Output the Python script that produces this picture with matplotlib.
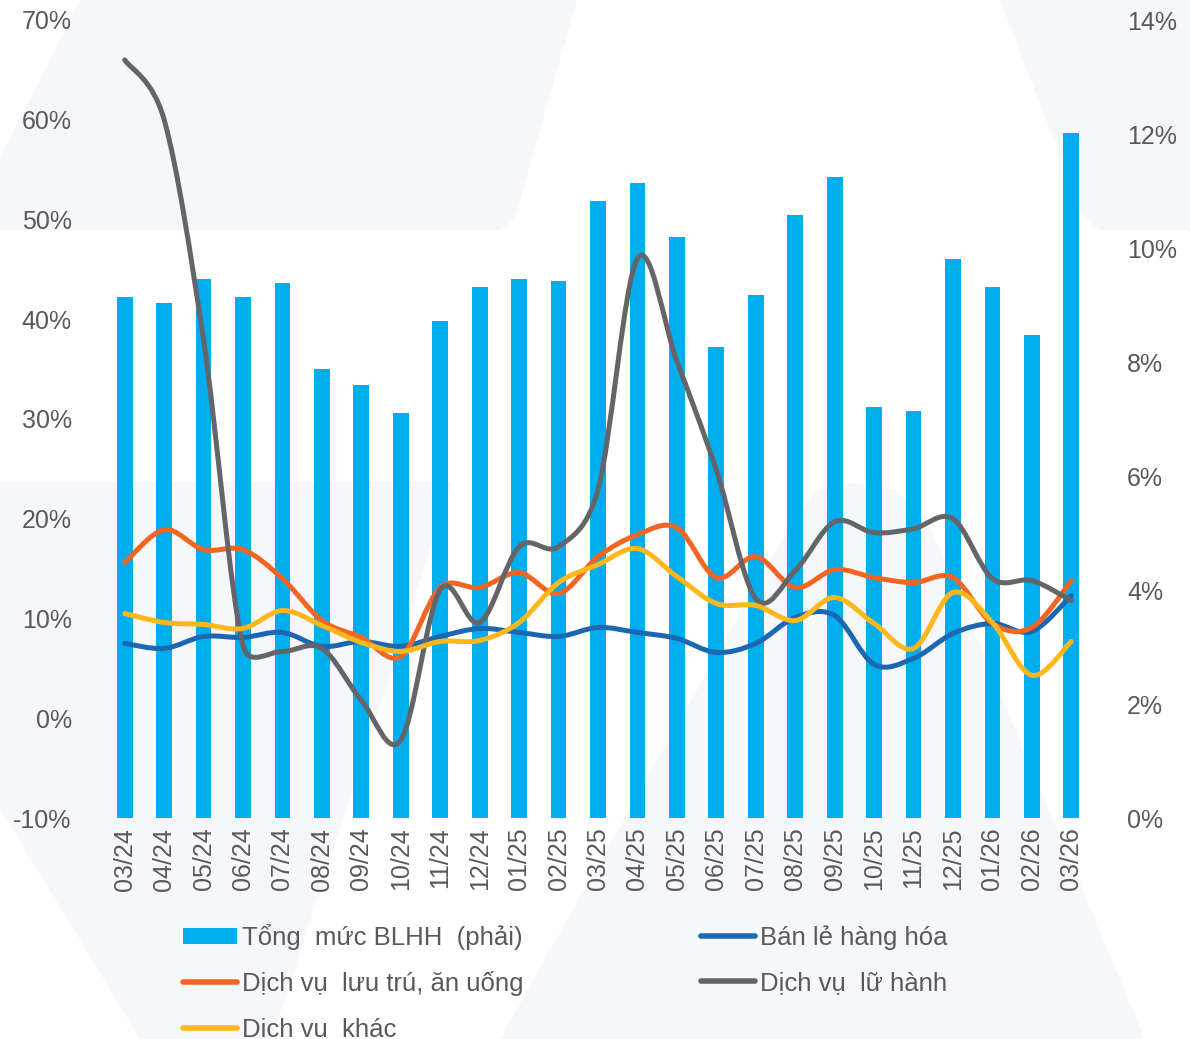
import numpy as np
import matplotlib.pyplot as plt
from matplotlib.path import Path
from matplotlib.patches import PathPatch, Polygon, Patch
from matplotlib.lines import Line2D
from matplotlib.ticker import FuncFormatter

plt.rcParams['font.family'] = ['Liberation Sans', 'DejaVu Sans']

months = ['03/24', '04/24', '05/24', '06/24', '07/24', '08/24', '09/24', '10/24',
          '11/24', '12/24', '01/25', '02/25', '03/25', '04/25', '05/25', '06/25',
          '07/25', '08/25', '09/25', '10/25', '11/25', '12/25', '01/26', '02/26', '03/26']

# total retail sales growth (right axis, %)
tong_muc = [9.14, 9.04, 9.46, 9.14, 9.39, 7.88, 7.60, 7.11, 8.72, 9.32, 9.46, 9.42,
            10.82, 11.14, 10.19, 8.26, 9.18, 10.58, 11.25, 7.21, 7.14, 9.81, 9.32, 8.47, 12.02]

# component growth (left axis, %)
ban_le = [7.5, 7.0, 8.2, 8.1, 8.6, 7.2, 7.7, 7.2, 8.2, 9.0, 8.6, 8.2,
          9.1, 8.6, 8.0, 6.6, 7.5, 10.1, 10.3, 5.4, 6.0, 8.5, 9.5, 8.7, 12.3]
luu_tru = [15.6, 18.9, 16.9, 16.9, 14.0, 9.8, 8.1, 6.2, 13.1, 13.1, 14.6, 12.5,
           16.2, 18.4, 19.1, 14.1, 16.2, 13.1, 14.9, 14.1, 13.6, 14.1, 9.5, 9.1, 13.8]
lu_hanh = [66.0, 60.0, 37.9, 7.3, 6.7, 7.0, 1.8, -2.2, 12.9, 9.6, 17.2, 17.2,
           22.9, 46.1, 35.8, 24.9, 12.0, 14.8, 19.7, 18.6, 19.0, 20.0, 14.0, 13.8, 11.8]
khac = [10.5, 9.6, 9.4, 9.0, 10.8, 9.3, 7.6, 6.7, 7.7, 7.8, 9.6, 13.6,
        15.4, 17.0, 14.2, 11.5, 11.3, 9.8, 12.1, 9.5, 7.0, 12.6, 9.6, 4.3, 7.7]

c_bar = '#00aeef'
c_blue = '#1b67b2'
c_orange = '#f26522'
c_gray = '#646569'
c_yellow = '#ffb71b'
c_text = '#595959'
c_mark = '#f6f7fb'

W, H = 1190, 1039
fig = plt.figure(figsize=(W / 100, H / 100), dpi=100)

# faint logo shapes in the background (pixel coords, y from top)
shapes = [
    [(80, 0), (577, 0), (515, 218), (500, 230), (0, 230), (0, 158)],
    [(1000, 0), (1190, 0), (1190, 230), (1100, 230), (1083, 216)],
    [(0, 482), (452, 482), (272, 1039), (140, 1039), (0, 808)],
    [(500, 1039), (790, 525), (815, 492), (850, 483), (895, 490), (925, 515), (1145, 1039)],
]
for pts in shapes:
    fig.patches.append(Polygon([(x / W, 1 - y / H) for x, y in pts], closed=True,
                               transform=fig.transFigure, facecolor=c_mark,
                               edgecolor='none', zorder=0))

ax2 = fig.add_axes([105 / W, 1 - 818 / H, (1091 - 105) / W, (818 - 20) / H])
ax = ax2.twinx()
ax.yaxis.tick_left()
ax2.yaxis.tick_right()
ax2.set_zorder(1)
ax.set_zorder(2)
ax.patch.set_visible(False)
ax2.patch.set_visible(False)

x = np.arange(len(months))
ax2.bar(x, tong_muc, width=0.4, color=c_bar, zorder=2)

ax.set_xlim(-0.5, len(months) - 0.5)
ax.set_ylim(-10, 70)


def smooth_path(xs, ys, sx, sy, limit=0.6):
    # cubic bezier through each point (Catmull-Rom tangents); a control arm
    # is never longer than `limit` times its own segment on screen
    pts = np.column_stack([xs, ys]).astype(float)
    scale = np.array([sx, sy])
    n = len(pts)

    def arm(v, chord):
        length = np.hypot(*(v * scale))
        cap = limit * np.hypot(*(chord * scale))
        return v * (cap / length) if length > cap else v

    verts = [pts[0]]
    codes = [Path.MOVETO]
    for i in range(n - 1):
        p0 = pts[max(i - 1, 0)]
        p1 = pts[i]
        p2 = pts[i + 1]
        p3 = pts[min(i + 2, n - 1)]
        chord = p2 - p1
        verts += [p1 + arm((p2 - p0) / 6, chord), p2 - arm((p3 - p1) / 6, chord), p2]
        codes += [Path.CURVE4] * 3
    return Path(verts, codes)


px_x = (1091 - 105) / len(months)
px_y = (818 - 20) / 80
series = [(ban_le, c_blue), (luu_tru, c_orange), (lu_hanh, c_gray), (khac, c_yellow)]
for vals, col in series:
    ax.add_patch(PathPatch(smooth_path(x, vals, px_x, px_y), facecolor='none',
                           edgecolor=col, lw=3.6, capstyle='round',
                           joinstyle='round', zorder=3))

ax.set_yticks(np.arange(-10, 71, 10))
ax2.set_ylim(0, 14)
ax2.set_yticks(np.arange(0, 15, 2))
pct = FuncFormatter(lambda v, p: f'{v:.0f}%')
ax.yaxis.set_major_formatter(pct)
ax2.yaxis.set_major_formatter(pct)

ax2.set_xticks(x)
ax2.set_xticklabels(months, rotation=90)

for a in (ax, ax2):
    for s in a.spines.values():
        s.set_visible(False)
    a.tick_params(length=0, labelsize=18, labelcolor=c_text)
ax.tick_params(axis='y', pad=24)
ax2.tick_params(axis='y', pad=26)
ax2.tick_params(axis='x', pad=7)

handles = [
    Patch(facecolor=c_bar),
    Line2D([], [], color=c_orange, lw=4, solid_capstyle='round'),
    Line2D([], [], color=c_yellow, lw=4, solid_capstyle='round'),
    Line2D([], [], color=c_blue, lw=4, solid_capstyle='round'),
    Line2D([], [], color=c_gray, lw=4, solid_capstyle='round'),
]
labels = ['Tổng  mức BLHH  (phải)', 'Dịch vụ  lưu trú, ăn uống', 'Dịch vụ  khác',
          'Bán lẻ hàng hóa', 'Dịch vụ  lữ hành']
leg = fig.legend(handles, labels, ncol=2, loc='upper left',
                 bbox_to_anchor=(183 / W, 1 - 924 / H), frameon=False,
                 fontsize=18.5, handlelength=2.1, handleheight=0.6, handletextpad=0.2,
                 columnspacing=6.9, labelspacing=0.82, borderpad=0, borderaxespad=0)
for t in leg.get_texts():
    t.set_color(c_text)

fig.savefig('out.png', dpi=100)
